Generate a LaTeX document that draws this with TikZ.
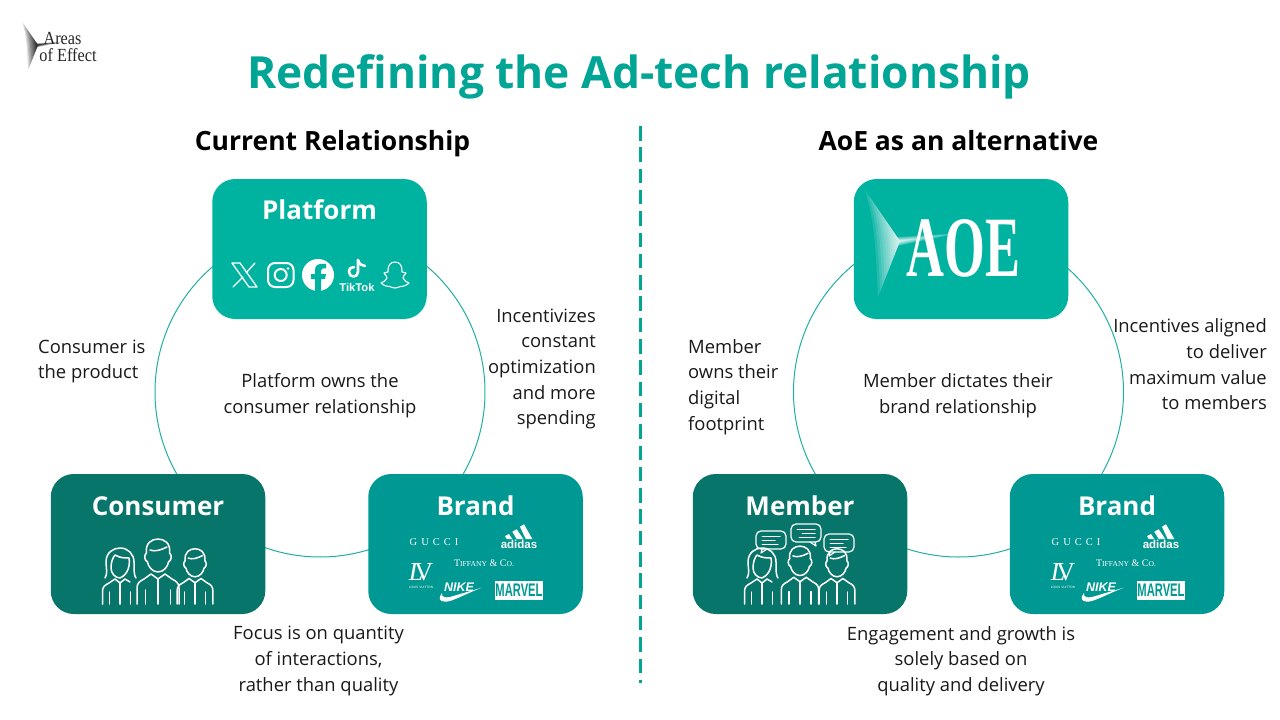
\documentclass[tikz,border=0pt]{standalone}
\usepackage{fontspec}
\usepackage{tikz}
\setmainfont{Open Sans}
\newfontfamily\logofont{Liberation Serif}
\newfontfamily\logosans{Liberation Sans}
\usetikzlibrary{positioning}
\definecolor{titleteal}{HTML}{00A595}
\definecolor{ringteal}{HTML}{1FAFA3}
\definecolor{platformfill}{HTML}{00B2A0}
\definecolor{consumerfill}{HTML}{08756A}
\definecolor{brandfill}{HTML}{009892}
\tikzset{
  box/.style={rectangle, rounded corners=23pt, minimum width=214.5pt, minimum height=140pt, inner sep=0pt},
  boxtitle/.style={text=white, anchor=base, font=\fontsize{26}{30}\selectfont\bfseries, inner sep=0pt},
  heading/.style={text=black, anchor=base, font=\fontsize{26.5}{30}\selectfont\bfseries, inner sep=0pt},
  note/.style={text=black!90, font=\fontsize{18.4}{25.7}\selectfont, inner sep=0pt},
  ring/.style={circle, draw=ringteal, line width=1pt, minimum size=330pt, inner sep=0pt},
  icon/.style={draw=white, line width=1.5pt, line cap=round, line join=round},
  pics/glare/.style={code={
    \foreach \glaresize in {1,.9,.8,.7,.6,.5,.42,.35,.28,.22,.17,.13,.1}
      \fill[#1, opacity=.13, scale=\glaresize] (-35,-51) -- (-3,-4) -- (60,-8) -- (-2,5) -- (-22,56) .. controls (-24,20) and (-24,-15) .. cycle;
  }},
  pics/man/.style={code={
    \draw[icon] (-21,0) -- (-21,-16) .. controls (-21,-21) and (-18,-23) .. (-14,-25) -- (-7,-30) -- (0,-25) -- (7,-30) -- (14,-25) .. controls (18,-23) and (21,-21) .. (21,-16) -- (21,0);
    \draw[icon] (0,0) -- (0,-25) (-12.5,0) -- (-12.5,-14) (12.5,0) -- (12.5,-14);
    \draw[icon] (0,-32) .. controls (-6,-32) and (-10,-38) .. (-10.5,-42) .. controls (-14,-44) and (-14,-49) .. (-11.5,-51) .. controls (-13,-61) and (-6,-65) .. (0,-65) .. controls (6,-65) and (13,-61) .. (11.5,-51) .. controls (14,-49) and (14,-44) .. (10.5,-42) .. controls (10,-38) and (6,-32) .. cycle;
    \draw[icon] (-8,-54) .. controls (-3,-52) and (3,-54) .. (9,-57);
  }},
  pics/woman/.style={code={
    \draw[icon] (-17.5,0) -- (-17.5,-13) .. controls (-17.5,-17) and (-15,-19) .. (-11,-21) -- (-5,-25) -- (0,-21) -- (5,-25) -- (10,-22);
    \draw[icon] (0,0) -- (0,-21) (-10.5,0) -- (-10.5,-12) (10.5,0) -- (10.5,-12);
    \draw[icon] (0,-26) .. controls (-5,-26) and (-9,-31) .. (-9,-36) .. controls (-9,-42) and (-7,-47) .. (-5,-49) .. controls (0,-46) and (5,-46) .. (9,-46) .. controls (10,-40) and (9,-30) .. (0,-26);
    \draw[icon] (-15,-26) .. controls (-12,-30) and (-14,-36) .. (-14,-42) .. controls (-14,-52) and (-6,-56) .. (0,-56) .. controls (8,-56) and (14,-50) .. (14,-42) .. controls (14,-34) and (14,-28) .. (16,-26);
  }},
  pics/bubble/.style={code={
    \draw[icon, line width=1.2pt, rounded corners=5pt] (-15,-9) rectangle (15,9);
    \draw[icon, line width=1.2pt] (-9,9) -- (-10,13) -- (-4,9);
    \draw[icon, line width=1pt] (-9,-4) -- (9,-4) (-9,0) -- (4,0) (-9,4) -- (7,4);
  }},
  pics/brandlogos/.style={code={
    \node[text=white, inner sep=0pt, font=\logofont\fontsize{10.5}{11}\selectfont\addfontfeature{LetterSpace=38}] (-gucci) at (434,542) {GUCCI};
    \fill[white] (520,526.7) -- (524,524.3) -- (532.3,539) -- (525.7,539) -- cycle;
    \fill[white] (512.3,531.7) -- (516.7,529.3) -- (523.3,539) -- (516.7,539) -- cycle;
    \fill[white] (505,536) -- (509,534) -- (512.3,539) -- (506.7,539) -- cycle;
    \node[text=white, inner sep=0pt, font=\logosans\fontsize{11.5}{12}\selectfont\bfseries] (-adidas) at (519,544) {adidas};
    \node[text=white, inner sep=0pt, font=\logofont\fontsize{10}{11}\selectfont] (-tiffany) at (484,563) {T{\fontsize{7.6}{8}\selectfont IFFANY} \& C{\fontsize{7.6}{8}\selectfont O.}};
    \node[text=white, inner sep=0pt, font=\logofont\fontsize{26}{27}\selectfont] (-lv) at (421,572) {{\itshape L}\kern-9pt V};
    \node[text=white, inner sep=0pt, font=\logosans\fontsize{3.2}{4}\selectfont] (-vuitton) at (421,587) {LOUIS VUITTON};
    \node[text=white, inner sep=0pt, font=\logosans\fontsize{12.5}{13}\selectfont\bfseries\itshape] (-nike) at (459,587) {NIKE};
    \fill[white] (481.7,587.7) .. controls (465,594) and (452,602) .. (445,601.7) .. controls (439,601.5) and (438,598) .. (442,593) .. controls (441,597) and (445,598) .. (450,597) -- cycle;
    \node[fill=white, text=brandfill, inner sep=0pt, minimum width=48pt, minimum height=19pt, font=\logosans\fontsize{14}{15}\selectfont\bfseries] (-marvel) at (519,590.5) {\scalebox{.8}[1.3]{MARVEL}};
  }}
}
\begin{document}
\begin{tikzpicture}[x=1pt, y=-1pt]
\useasboundingbox (0,0) rectangle (1280,720);

\pic at (38,45) [scale=.45] {glare=black};
\node [text=black!85, align=left, inner sep=0pt, font=\logofont\fontsize{18.5}{17}\selectfont] (logotext) at (68,46.5) {\scalebox{.88}[1]{\ Areas}\\\scalebox{.88}[1]{of Effect}};

\node [text=titleteal, anchor=base, inner sep=0pt, font=\fontsize{44.3}{52}\selectfont\bfseries] (title) at (639,88) {Redefining the Ad-tech relationship};
\node [heading] (currenthead) at (332.5,150) {Current Relationship};
\node [heading] (aoehead) at (958.5,150) {AoE as an alternative};

\coordinate (dividertop) at (640,126);
\coordinate (dividerbottom) at (640,683);
\draw [titleteal, line width=3pt, dash pattern=on 14.5pt off 6.8pt] (dividertop) -- (dividerbottom);

\node [ring] (leftring) at (320,392) {};
\node [ring] (rightring) at (958.5,392) {};

\node [box, fill=platformfill] (platform) at (319.5,249) {};
\node [box, fill=consumerfill] (consumer) at (158,544) {};
\node [box, fill=brandfill] (brand) at (475.5,544) {};
\node [box, fill=platformfill] (aoe) at (961,249) {};
\node [box, fill=consumerfill] (member) at (800,544) {};
\node [box, fill=brandfill] (aoebrand) at (1117,544) {};

\node [boxtitle] (platformtitle) at ([yshift=-41pt]platform.north) {Platform};
\node [boxtitle] (consumertitle) at ([yshift=-42pt]consumer.north) {Consumer};
\node [boxtitle] (brandtitle) at ([yshift=-42pt]brand.north) {Brand};
\node [boxtitle] (membertitle) at ([yshift=-42pt]member.north) {Member};
\node [boxtitle] (aoebrandtitle) at ([yshift=-42pt]aoebrand.north) {Brand};

\begin{scope}
\draw [icon, line width=1.3pt] (232,263) -- (240,263) -- (257,287) -- (249,287) -- cycle;
\draw [icon, line width=1.3pt] (255,263) -- (246,273) (243,277) -- (233,287);
\draw [icon, line width=2pt, rounded corners=7pt] (268,263) rectangle (293.5,287);
\draw [icon, line width=2pt] (280.7,275) circle (6);
\fill [white] (288,268.5) circle (1.4);
\fill [white] (318,275) circle (16);
\fill [platformfill] (315,291.5) -- (315,279) -- (311,279) -- (311,274) -- (315,274) -- (315,270) .. controls (315,265) and (318,263) .. (326,264) -- (326,268.5) .. controls (322,268) and (321,269) .. (321,271) -- (321,274) -- (326,274) -- (325,279) -- (321,279) -- (321,291.5) -- cycle;
\draw [icon, line width=2.6pt] (358,260) -- (358,272) .. controls (358,278) and (349,278) .. (349,272) .. controls (349,268) and (352,267) .. (354,267);
\draw [icon, line width=2.6pt] (358,260) .. controls (359,264) and (362,266) .. (365,266);
\node [text=white, inner sep=0pt, font=\logosans\fontsize{11.2}{11}\selectfont\bfseries] (tiktok) at (357,287) {TikTok};
\draw [icon, line width=1.1pt] (395,262) .. controls (390,262) and (388,266) .. (388,270) -- (388,272) .. controls (386,273) and (385,272) .. (384,273) .. controls (385,276) and (388,276) .. (387,278) .. controls (386,281) and (383,282) .. (381,283) .. controls (382,285) and (385,285) .. (386,286) .. controls (389,285) and (391,288) .. (395,288) .. controls (399,288) and (401,285) .. (404,286) .. controls (405,285) and (408,285) .. (409,283) .. controls (407,282) and (404,281) .. (403,278) .. controls (402,276) and (405,276) .. (406,273) .. controls (405,272) and (404,273) .. (402,272) -- (402,270) .. controls (402,266) and (400,262) .. (395,262) -- cycle;
\end{scope}

\begin{scope}
\clip [rounded corners=23pt] (854,179) rectangle (1068,319);
\pic at (900,241) {glare=white};
\end{scope}
\node [text=white, inner sep=0pt, font=\logofont\fontsize{86}{86}\selectfont\bfseries] (aoelogo) at (963.5,248) {\scalebox{.61}[1]{AOE}};

\pic at (120,604) {woman};
\pic at (158,604) {man};
\pic at (195,604) [scale=.85] {man};

\pic at (762,604) {woman};
\pic at (800,604) [scale=.89] {man};
\pic at (837,604) [scale=.85] {man};
\pic at (771,540) {bubble};
\pic at (806,533) [xscale=-1] {bubble};
\pic at (839,543) {bubble};

\pic (left) at (0,0) {brandlogos};
\pic (right) at (642,0) {brandlogos};

\node [note, align=left, anchor=west] (consumernote) at (38,361.5) {Consumer is\\the product};
\node [note, align=right, anchor=east] (incentivenote) at (596,369) {Incentivizes\\constant\\optimization\\and more\\spending};
\node [note, align=center] (platformnote) at (320,395.5) {Platform owns the\\consumer relationship};
\node [note, align=center] (focusnote) at (318.5,661) {Focus is on quantity\\of interactions,\\rather than quality};
\node [note, align=left, anchor=west] (membernote) at (688,387) {Member\\owns their\\digital\\footprint};
\node [note, align=right, anchor=east] (alignednote) at (1267,364.5) {Incentives aligned\\to deliver\\maximum value\\to members};
\node [note, align=center] (dictatesnote) at (958,395.5) {Member dictates their\\brand relationship};
\node [note, align=center] (growthnote) at (961,661) {Engagement and growth is\\solely based on\\quality and delivery};

\end{tikzpicture}
\end{document}
